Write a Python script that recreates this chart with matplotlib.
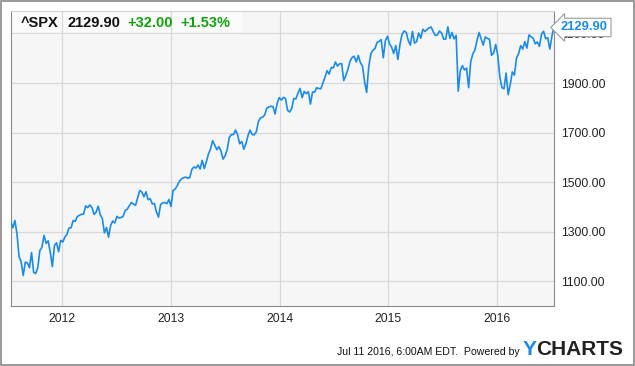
#!/usr/bin/env python3
"""Five-year ^SPX weekly line chart in the YCharts style."""

import matplotlib

matplotlib.use("Agg")
import matplotlib.dates as mdates
import matplotlib.pyplot as plt
import pandas as pd
from matplotlib.patches import Rectangle
from matplotlib.ticker import FormatStrFormatter

# weekly closes, ending Jul 11 2016
spx_2011 = [1340, 1316, 1345, 1292, 1200, 1178, 1123, 1177, 1174, 1154, 1216,
            1136, 1131, 1155, 1224, 1238, 1285, 1253, 1263, 1216, 1159, 1244,
            1255, 1219, 1265, 1258]
spx_2012 = [1278, 1289, 1315, 1316, 1345, 1342, 1361, 1366, 1370, 1371, 1404,
            1397, 1408, 1398, 1370, 1378, 1403, 1369, 1353, 1295, 1317, 1278,
            1325, 1343, 1335, 1362, 1355, 1357, 1362, 1386, 1391, 1405, 1418,
            1411, 1407, 1438, 1466, 1460, 1441, 1461, 1429, 1433, 1412, 1414,
            1380, 1359, 1409, 1416, 1418, 1413, 1430, 1402]
spx_2013 = [1466, 1472, 1486, 1503, 1513, 1518, 1520, 1516, 1518, 1551, 1561,
            1557, 1569, 1553, 1588, 1555, 1582, 1614, 1634, 1667, 1650, 1631,
            1643, 1626, 1593, 1606, 1632, 1680, 1692, 1692, 1710, 1691, 1655,
            1664, 1633, 1655, 1688, 1710, 1692, 1691, 1703, 1745, 1759, 1762,
            1771, 1798, 1804, 1806, 1805, 1775, 1818, 1841]
spx_2014 = [1831, 1842, 1838, 1790, 1783, 1797, 1838, 1836, 1859, 1878, 1841,
            1866, 1857, 1865, 1815, 1864, 1863, 1881, 1878, 1877, 1900, 1924,
            1950, 1936, 1963, 1961, 1985, 1968, 1978, 1978, 1910, 1931, 1955,
            1988, 2003, 2008, 1985, 2011, 1982, 1968, 1906, 1862, 1965, 2018,
            2032, 2039, 2064, 2068, 2075, 2002, 2071, 2089, 2058]
spx_2015 = [2045, 2019, 2051, 1995, 2055, 2097, 2110, 2105, 2071, 2053, 2108,
            2061, 2067, 2102, 2081, 2117, 2108, 2116, 2123, 2126, 2107, 2092,
            2094, 2110, 2102, 2077, 2077, 2127, 2080, 2104, 2078, 2092, 1867,
            1950, 1970, 1953, 1960, 1881, 1987, 2017, 2033, 2071, 2104, 2078,
            2053, 2086, 2080, 2077, 2012, 2021, 2056]
spx_2016 = [2012, 1923, 1881, 1877, 1940, 1853, 1895, 1945, 1932, 2001, 2019,
            2051, 2037, 2067, 2041, 2094, 2087, 2081, 2058, 2066, 2048, 2097,
            2109, 2079, 2083, 2037, 2088, 2129.90]

last_close = 2129.90
change = "+32.00"
change_pct = "+1.53%"
y_ticks = [1100, 1300, 1500, 1700, 1900, 2100]
x_years = [2012, 2013, 2014, 2015, 2016]

values = spx_2011 + spx_2012 + spx_2013 + spx_2014 + spx_2015 + spx_2016
dates = pd.date_range(end="2016-07-11", periods=len(values), freq="7D")

LINE = "#1a8be8"
GREEN = "#13a10e"

plt.rcParams.update({
    "font.family": ["Liberation Sans", "DejaVu Sans"],
    "font.size": 8.5,
})

fig = plt.figure(figsize=(6.35, 3.66), dpi=100)
ax = fig.add_axes([0.0169, 0.1639, 0.8555, 0.8069])
ax.set_facecolor("#f6f6f6")

ax.plot(dates, values, color=LINE, linewidth=1.2, zorder=3)

ax.set_xlim(dates[0], dates[-1])
ax.set_ylim(1000, 2192)
ax.set_yticks(y_ticks)
ax.yaxis.set_major_formatter(FormatStrFormatter("%.2f"))
ax.yaxis.tick_right()
ax.set_xticks([pd.Timestamp(f"{y}-01-01") for y in x_years])
ax.xaxis.set_major_formatter(mdates.DateFormatter("%Y"))
ax.tick_params(length=0, labelsize=8.7, colors="#222222")
ax.tick_params(axis="y", pad=5)
ax.tick_params(axis="x", pad=5)
ax.set_axisbelow(True)
ax.grid(True, color="#d8d8d8", linewidth=0.9)
for side in ("left", "bottom", "right"):
    ax.spines[side].set_color("#8a8a8a")
ax.spines["top"].set_color("#d0d0d0")

# header strip
ax.add_patch(Rectangle((0, 0.917), 0.425, 0.083, transform=ax.transAxes,
                       facecolor="#fbfbfb", edgecolor="none", zorder=0.2))
hy = 0.958
ax.text(0.019, hy, "^SPX", transform=ax.transAxes, fontsize=10.5,
        fontweight="bold", va="center", color="#111111")
ax.text(0.105, hy, f"{last_close:.2f}", transform=ax.transAxes, fontsize=10.5,
        fontweight="bold", va="center", color="#111111")
ax.text(0.215, hy, change, transform=ax.transAxes, fontsize=10.5,
        fontweight="bold", va="center", color=GREEN)
ax.text(0.313, hy, change_pct, transform=ax.transAxes, fontsize=10.5,
        fontweight="bold", va="center", color=GREEN)

# last value flag
ax.annotate(f"{last_close:.2f}", xy=(1, values[-1]),
            xycoords=("axes fraction", "data"), xytext=(5, -1),
            textcoords="offset points", va="center", ha="left",
            fontsize=9.3, fontweight="bold", color=LINE, zorder=5,
            annotation_clip=False,
            bbox=dict(boxstyle="larrow,pad=0.25", facecolor="white",
                      edgecolor="#9a9a9a", linewidth=0.8))

# footer
fig.text(0.819, 0.037, "Jul 11 2016, 6:00AM EDT.  Powered by", ha="right",
         va="center", fontsize=7.6, color="#111111")
fig.text(0.823, 0.045, "Y", ha="left", va="center", fontsize=15,
         fontweight="bold", color="#1a8be8")
fig.text(0.844, 0.045, "CHARTS", ha="left", va="center", fontsize=15,
         fontweight="bold", color="#222222")

fig.patches.append(Rectangle((0.001, 0.002), 0.997, 0.995,
                             transform=fig.transFigure, fill=False,
                             edgecolor="#888888", linewidth=1.2))

fig.savefig("out.png", dpi=100)
